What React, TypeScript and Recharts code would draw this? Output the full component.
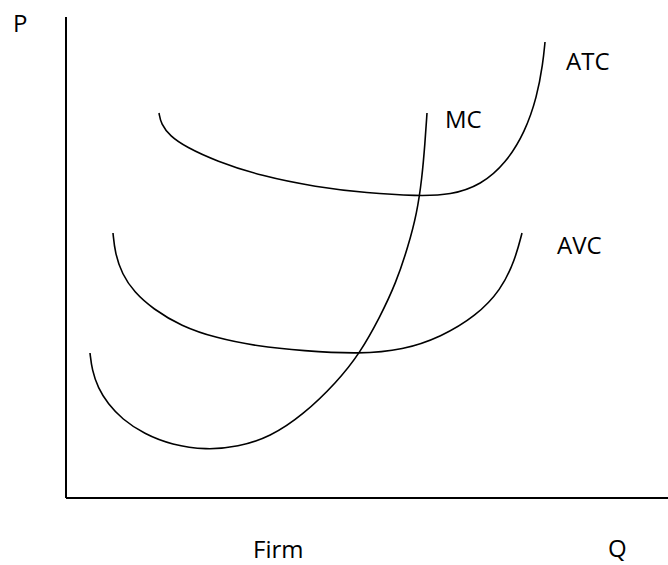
import React from 'react';
import { LineChart, Line, XAxis, YAxis } from 'recharts';

// Quantity / price values (axis units: Q 0..602, P 0..481)
const mcQ = [24, 26, 32, 42, 56, 78, 106, 140, 172, 204, 237, 271, 294, 314, 330, 342, 351, 356, 359, 361];
const mcP = [145, 128, 110, 94, 79, 64, 53, 48, 51, 61, 83, 116, 145, 181, 215, 251, 285, 320, 355, 385];

const avcQ = [47, 49, 56, 68, 87, 115, 150, 190, 237, 294, 337, 375, 410, 435, 449, 456];
const avcP = [265, 245, 224, 206, 189, 172, 160, 152, 147, 144, 148, 161, 182, 208, 238, 265];

const atcQ = [93, 95, 104, 120, 150, 195, 250, 301, 351, 385, 415, 440, 459, 471, 477, 479];
const atcP = [385, 374, 362, 351, 337, 322, 311, 305, 302, 303, 313, 335, 366, 401, 435, 456];

const build = (qs: number[], ps: number[]) => qs.map((q, i) => ({ q, p: ps[i] }));

const mcData = build(mcQ, mcP);
const avcData = build(avcQ, avcP);
const atcData = build(atcQ, atcP);

const labels = [
  { text: 'P', x: 13, y: 32 },
  { text: 'ATC', x: 566, y: 70 },
  { text: 'MC', x: 445, y: 128 },
  { text: 'AVC', x: 557, y: 254 },
  { text: 'Firm', x: 253, y: 558 },
  { text: 'Q', x: 608, y: 557 },
];

export default function App() {
  return (
    <div style={{ position: 'absolute', left: 0, top: 0, width: 668, height: 565, background: '#fff' }}>
      <LineChart width={668} height={565} margin={{ top: 17, right: 0, bottom: 37, left: 36 }}>
        <XAxis
          type="number"
          dataKey="q"
          domain={[0, 602]}
          tick={false}
          tickLine={false}
          axisLine={{ stroke: '#000', strokeWidth: 2 }}
          height={30}
          allowDataOverflow
        />
        <YAxis
          type="number"
          dataKey="p"
          domain={[0, 481]}
          tick={false}
          tickLine={false}
          axisLine={{ stroke: '#000', strokeWidth: 2 }}
          width={30}
          allowDataOverflow
        />
        <Line data={mcData} dataKey="p" type="basis" stroke="#000" strokeWidth={1.6} dot={false} isAnimationActive={false} />
        <Line data={avcData} dataKey="p" type="basis" stroke="#000" strokeWidth={1.6} dot={false} isAnimationActive={false} />
        <Line data={atcData} dataKey="p" type="basis" stroke="#000" strokeWidth={1.6} dot={false} isAnimationActive={false} />
      </LineChart>
      <svg width={668} height={565} style={{ position: 'absolute', left: 0, top: 0, pointerEvents: 'none' }}>
        {labels.map((l) => (
          <text key={l.text} x={l.x} y={l.y} fontFamily="'Open Sans', sans-serif" fontSize={24} fill="#000">
            {l.text}
          </text>
        ))}
      </svg>
    </div>
  );
}
